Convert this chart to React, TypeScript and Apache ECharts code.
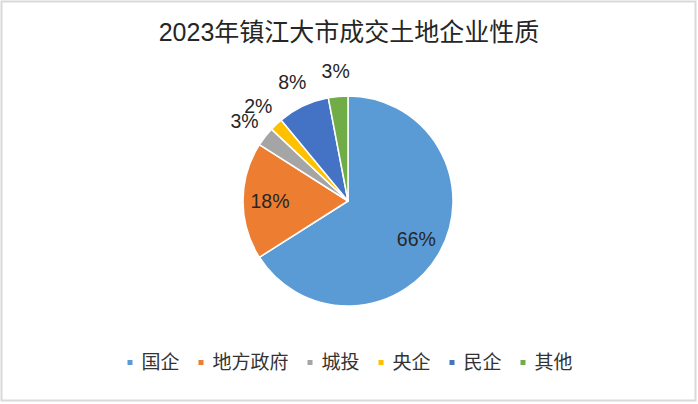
import React, { useEffect, useRef } from "react";
import * as echarts from "echarts";

const titleText = "2023年镇江大市成交土地企业性质";
const categories = ["国企", "地方政府", "城投", "央企", "民企", "其他"];
const shares = [66, 18, 3, 2, 8, 3];
const colors = ["#5B9BD5", "#ED7D31", "#A5A5A5", "#FFC000", "#4472C4", "#70AD47"];

const CX = 348;
const CY = 201;
const R = 105;
const FONT = "'Liberation Sans', 'Noto Sans CJK SC', sans-serif";

export default function App() {
  const ref = useRef<HTMLDivElement>(null);
  useEffect(() => {
    document.body.style.margin = "0";
    if (!ref.current) return;
    const chart = echarts.init(ref.current, null, { renderer: "svg" });
    const mainData = categories.map((name, i) => ({
      name,
      value: shares[i],
      itemStyle: { color: colors[i] },
    }));
    const ghost = (inner: boolean) =>
      categories.map((name, i) => ({
        name,
        value: shares[i],
        label: { show: inner ? shares[i] >= 10 : shares[i] < 10 },
      }));
    const ghostSeries = (inner: boolean, r: number) => ({
      type: "pie",
      radius: [0, r],
      center: [CX, CY],
      startAngle: 90,
      silent: true,
      legendHoverLink: false,
      avoidLabelOverlap: false,
      labelLayout: { hideOverlap: false },
      itemStyle: { color: "rgba(0,0,0,0)", borderWidth: 0 },
      label: {
        position: "inside",
        formatter: "{c}%",
        fontSize: 19.5,
        fontFamily: FONT,
        color: "#262626",
        overflow: "none",
      },
      labelLine: { show: false },
      emphasis: { disabled: true },
      data: ghost(inner),
      z: 5,
    });
    chart.setOption({
      animation: false,
      backgroundColor: "#ffffff",
      title: {
        text: titleText,
        left: "center",
        top: 14,
        textStyle: {
          fontSize: 25,
          fontWeight: "normal",
          fontFamily: FONT,
          color: "#262626",
        },
      },
      legend: {
        data: categories,
        bottom: 27,
        left: "center",
        icon: "rect",
        itemWidth: 7,
        itemHeight: 7,
        itemGap: 17,
        textStyle: {
          fontSize: 19,
          fontFamily: FONT,
          color: "#333333",
          padding: [0, 0, 0, 3],
        },
      },
      graphic: [
        {
          type: "rect",
          shape: { x: 1.5, y: 1.5, width: 694, height: 399 },
          style: { fill: "none", stroke: "#d9d9d9", lineWidth: 2 },
          silent: true,
        },
      ],
      series: [
        {
          type: "pie",
          radius: [0, R],
          center: [CX, CY],
          startAngle: 90,
          clockwise: true,
          itemStyle: { borderColor: "#ffffff", borderWidth: 1.5 },
          label: { show: false },
          labelLine: { show: false },
          data: mainData,
        },
        ghostSeries(true, 150),
        ghostSeries(false, 256),
      ],
    });
    return () => chart.dispose();
  }, []);
  return <div ref={ref} style={{ width: 698, height: 404 }} />;
}
